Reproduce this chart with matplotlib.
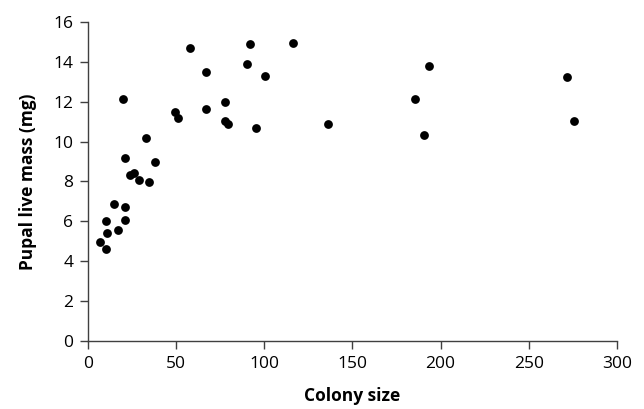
import matplotlib
matplotlib.use("Agg")
import matplotlib.pyplot as plt

colony_size = [6.6, 10.0, 10.0, 11.0, 14.9, 16.8, 19.9, 21.0, 21.2, 21.2,
               23.8, 25.9, 28.9, 33.1, 34.8, 38.0, 49.2, 50.9, 57.9, 67.1,
               67.1, 77.9, 77.9, 79.2, 90.0, 91.9, 95.1, 100.2, 116.1, 136.1,
               185.3, 190.4, 193.4, 271.5, 275.7]
pupal_mass = [4.95, 4.64, 6.0, 5.42, 6.89, 5.59, 12.11, 9.19, 6.71, 6.09,
              8.32, 8.42, 8.09, 10.19, 7.96, 8.99, 11.49, 11.18, 14.66, 13.48,
              11.61, 11.98, 11.01, 10.88, 13.89, 14.9, 10.69, 13.28, 14.95, 10.88,
              12.13, 10.31, 13.8, 13.23, 11.01]

x_ticks = [0, 50, 100, 150, 200, 250, 300]
y_ticks = [0, 2, 4, 6, 8, 10, 12, 14, 16]

plt.rcParams['font.family'] = ['Open Sans', 'DejaVu Sans']

fig = plt.figure(figsize=(6.44, 4.09), dpi=100)
ax = fig.add_axes([0.1366, 0.1655, 0.8214, 0.7815])
ax.scatter(colony_size, pupal_mass, s=40, color='black', zorder=3, linewidths=0)

ax.set_xlim(0, 300)
ax.set_ylim(0, 16)
ax.set_xticks(x_ticks)
ax.set_yticks(y_ticks)
for s in ['top', 'right']:
    ax.spines[s].set_visible(False)
for s in ['left', 'bottom']:
    ax.spines[s].set_color('#404040')
    ax.spines[s].set_linewidth(1.0)
ax.tick_params(axis='both', direction='out', length=5.5, width=1.0, color='#404040',
               labelsize=12.5, labelcolor='black', pad=5)
ax.set_xlabel('Colony size', fontsize=12.5, fontweight='bold', labelpad=11)
ax.set_ylabel('Pupal live mass (mg)', fontsize=12.5, fontweight='bold', labelpad=12)

fig.savefig('out.png', dpi=100)
